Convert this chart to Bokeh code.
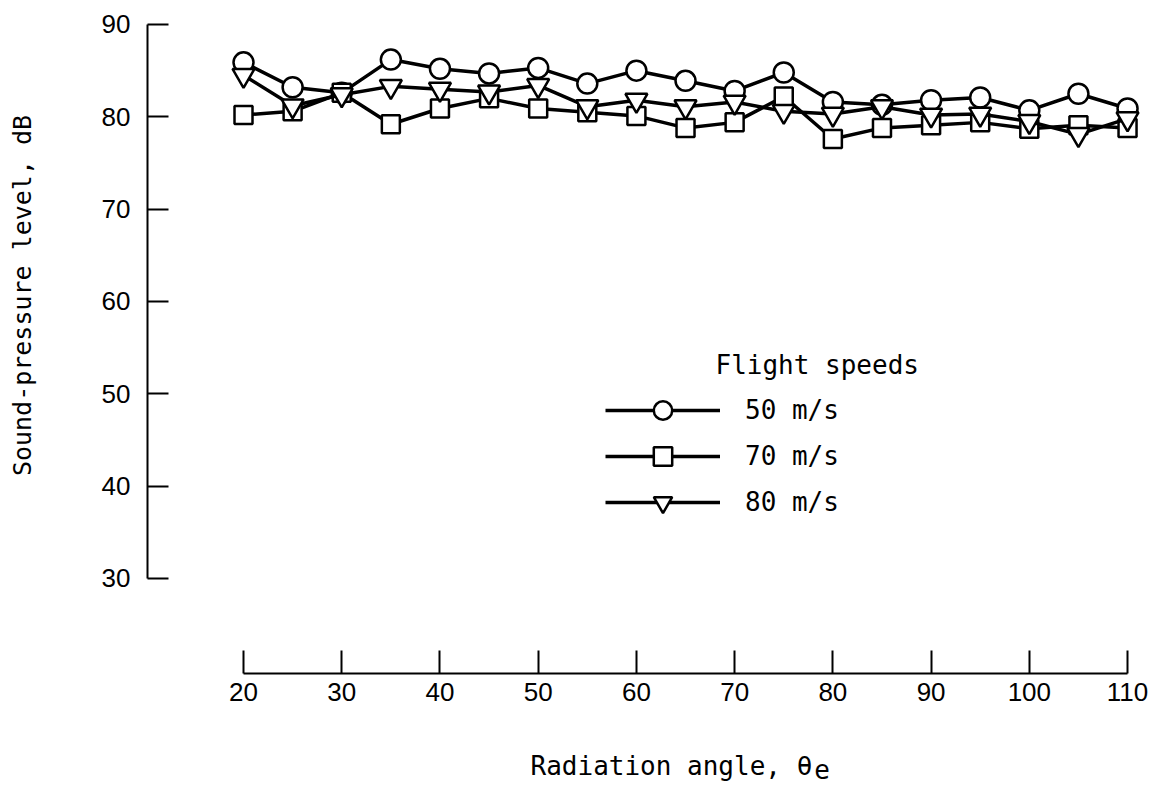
from bokeh.plotting import figure
from bokeh.models import Range1d, FixedTicker, Legend, LegendItem, Label
from bokeh.embed import file_html
from bokeh.resources import INLINE

# ---- data ----
angles = [20, 25, 30, 35, 40, 45, 50, 55, 60, 65, 70, 75, 80, 85, 90, 95, 100, 105, 110]
spl_50 = [85.9, 83.2, 82.6, 86.2, 85.2, 84.7, 85.3, 83.6, 85.0, 83.9, 82.8, 84.8, 81.6, 81.3, 81.8, 82.1, 80.7, 82.5, 80.9]
spl_70 = [80.2, 80.6, 82.6, 79.2, 80.9, 82.0, 80.9, 80.5, 80.1, 78.8, 79.4, 82.2, 77.6, 78.8, 79.1, 79.4, 78.7, 79.1, 78.8]
spl_80 = [84.5, 81.2, 82.4, 83.3, 83.0, 82.7, 83.4, 81.1, 81.8, 81.1, 81.6, 80.6, 80.3, 81.1, 80.2, 80.3, 79.5, 78.1, 79.8]
series_labels = ["50 m/s", "70 m/s", "80 m/s"]
series_markers = ["circle", "square", "inverted_triangle"]
x_ticks = [20, 30, 40, 50, 60, 70, 80, 90, 100, 110]
y_ticks = [30, 40, 50, 60, 70, 80, 90]
x_title = "Radiation angle, \u03b8"
x_title_sub = "e"
y_title = "Sound-pressure level, dB"
legend_title = "Flight speeds"

MONO = "DejaVu Sans Mono"
SANS = "Liberation Sans"

p = figure(width=1150, height=787, output_backend="svg", toolbar_location=None,
           x_range=Range1d(10.226, 111.93), y_range=Range1d(19.711, 91.083),
           min_border_left=147, min_border_right=4, min_border_top=14, min_border_bottom=114)
p.outline_line_color = None
p.xgrid.visible = False
p.ygrid.visible = False
p.background_fill_color = "white"
p.border_fill_color = "white"

xa = p.xaxis[0]
xa.bounds = (20, 110)
xa.ticker = FixedTicker(ticks=x_ticks)
xa.major_tick_in = 23
xa.major_tick_out = 0
xa.minor_tick_in = 0
xa.minor_tick_out = 0
xa.axis_line_width = 2
xa.major_tick_line_width = 2
xa.axis_line_color = "black"
xa.major_tick_line_color = "black"
xa.major_label_text_font = SANS
xa.major_label_text_font_size = "26px"
xa.major_label_text_color = "black"
xa.major_label_standoff = 9

ya = p.yaxis[0]
ya.bounds = (30, 90)
ya.ticker = FixedTicker(ticks=y_ticks)
ya.major_tick_in = 21
ya.major_tick_out = 0
ya.minor_tick_in = 0
ya.minor_tick_out = 0
ya.axis_line_width = 2
ya.major_tick_line_width = 2
ya.axis_line_color = "black"
ya.major_tick_line_color = "black"
ya.major_label_text_font = SANS
ya.major_label_text_font_size = "26px"
ya.major_label_text_color = "black"
ya.major_label_standoff = 17

marker_sizes = [20, 18, 22]
items = []
for vals, lab, mk, sz in zip([spl_50, spl_70, spl_80], series_labels, series_markers, marker_sizes):
    ln = p.line(angles, vals, line_width=3.5, line_color="black")
    sc = p.scatter(angles, vals, marker=mk, size=sz, fill_color="white",
                   line_color="black", line_width=2.5)
    items.append(LegendItem(label=lab, renderers=[ln, sc]))

legend = Legend(items=items, location=(458, 148), glyph_width=115, glyph_height=46,
                spacing=0, padding=0, margin=0, border_line_color=None,
                background_fill_alpha=0, label_standoff=25,
                label_text_font=MONO, label_text_font_size="26px",
                label_text_color="black")
p.add_layout(legend)

p.add_layout(Label(x=68.05, y=53.07, text=legend_title, text_font=MONO,
                   text_font_size="26px", text_baseline="middle", text_color="black"))

# axis titles (placed in the side panels so they are not clipped to the frame)
p.add_layout(Label(x=49.22, y=9.74, text=x_title, text_font=MONO, text_font_size="26px",
                   text_align="left", text_baseline="alphabetic", text_color="black"), "below")
p.add_layout(Label(x=78.1, y=9.4, text=x_title_sub, text_font=MONO, text_font_size="26px",
                   text_align="left", text_baseline="alphabetic", text_color="black"), "below")
p.add_layout(Label(x=-2.50, y=60.65, text=y_title, text_font=MONO, text_font_size="25px",
                   angle=90, angle_units="deg", text_align="center", text_baseline="middle",
                   text_color="black"), "left")

open("out.html", "w").write(file_html(p, INLINE))
